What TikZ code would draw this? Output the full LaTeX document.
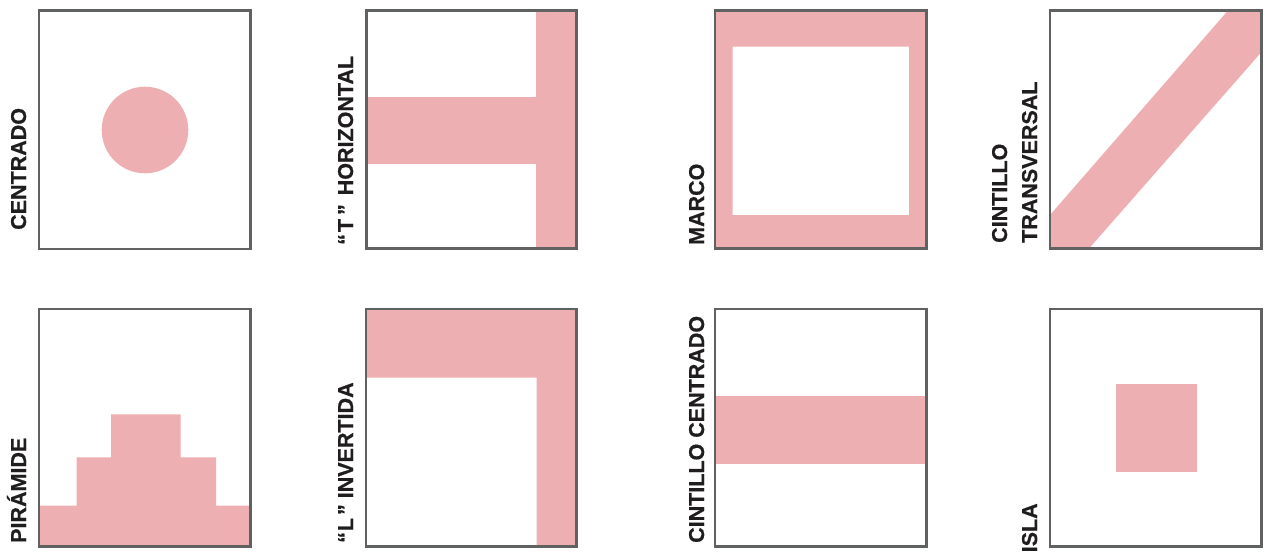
\documentclass[tikz,border=0pt]{standalone}
\usepackage{fontspec}
\setmainfont{Liberation Sans}[BoldFeatures={FakeBold=0.6}]
\definecolor{pinkfill}{HTML}{EEAFB2}
\definecolor{framegray}{HTML}{606262}
\definecolor{ink}{HTML}{1F1D1E}
\begin{document}
\begin{tikzpicture}[x=1pt,y=-1pt,
  frm/.style={draw=framegray,line width=2.4pt},
  pk/.style={fill=pinkfill},
  lbl/.style={rotate=90,anchor=base west,inner sep=0pt,
    font=\fontsize{21.5}{24}\selectfont\bfseries,text=ink}]
\useasboundingbox (0,0) rectangle (1265,552);
% ---------- top row ----------
% 1 Centrado
\fill[pk] (145,130) circle[radius=43.3];
\draw[frm] (39,10.5) rectangle (250.5,249);
\node[lbl] (l1) at (26,230) {CENTRADO};
% 2 T horizontal
\fill[pk] (536,10.5) rectangle (576.5,248.5);
\fill[pk] (366.5,96.5) rectangle (536,164);
\draw[frm] (366.5,10.5) rectangle (576.5,248.5);
\node[lbl] (l2) at (353,245) {“\kern2pt T\kern4pt ”\kern3pt\ HORIZONTAL};
% 3 Marco
\fill[pk,even odd rule] (715,10.5) rectangle (926.5,248.5) (732.5,46.5) rectangle (909,215);
\draw[frm] (715,10.5) rectangle (926.5,248.5);
\node[lbl] (l3) at (704,245) {MARCO};
% 4 Cintillo transversal
\fill[pk] (1050,215) -- (1228,10.5) -- (1261.5,10.5) -- (1261.5,52) -- (1089,248.5) -- (1050,248.5) -- cycle;
\draw[frm] (1050,10.5) rectangle (1261.5,248.5);
\node[lbl] (l4a) at (1007,243) {CINTILLO};
\node[lbl] (l4b) at (1037,243) {TRANSVERSAL};
% ---------- bottom row ----------
% 5 Piramide
\fill[pk] (39,546.5) -- (39,505.5) -- (76.5,505.5) -- (76.5,457.3) -- (111,457.3) -- (111,414.3)
  -- (180.7,414.3) -- (180.7,457.3) -- (216,457.3) -- (216,505.5) -- (250.5,505.5) -- (250.5,546.5) -- cycle;
\draw[frm] (39,309) rectangle (250.5,546.5);
\node[lbl] (l5) at (26,543) {PIRÁMIDE};
% 6 L invertida
\fill[pk] (366,309) -- (576.5,309) -- (576.5,546.5) -- (536.7,546.5) -- (536.7,377.7) -- (366,377.7) -- cycle;
\draw[frm] (366,309) rectangle (576.5,546.5);
\node[lbl] (l6) at (353,543) {“\kern1pt L\kern3pt ”\ INVERTIDA};
% 7 Cintillo centrado
\fill[pk] (715,396) rectangle (926.5,464);
\draw[frm] (715,309) rectangle (926.5,546.5);
\node[lbl] (l7) at (704,543) {CINTILLO CENTRADO};
% 8 Isla
\fill[pk] (1116,384) rectangle (1197,471.7);
\draw[frm] (1050,309) rectangle (1261.5,546.5);
\node[lbl] (l8) at (1037,552.5) {ISLA};
\end{tikzpicture}
\end{document}
